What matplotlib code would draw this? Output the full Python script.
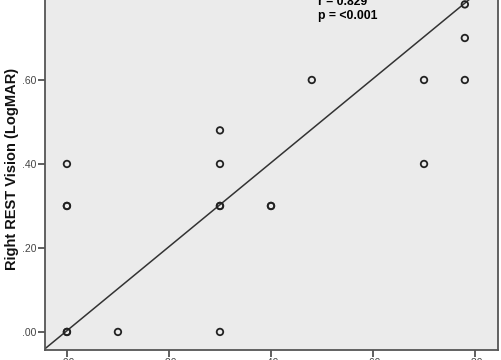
import numpy as np
import matplotlib
matplotlib.use('Agg')
import matplotlib.pyplot as plt

# Left vs right REST vision (LogMAR)
left_vision = [0.00, 0.00, 0.00, 0.00, 0.00, 0.10, 0.30, 0.30, 0.30, 0.30, 0.30,
               0.40, 0.40, 0.48, 0.70, 0.70, 0.78, 0.78, 0.78]
right_vision = [0.00, 0.00, 0.30, 0.30, 0.40, 0.00, 0.00, 0.30, 0.30, 0.40, 0.48,
                0.30, 0.30, 0.60, 0.60, 0.40, 0.78, 0.70, 0.60]
fit_slope = 1.0
fit_intercept = 0.003
ticks = [0.0, 0.2, 0.4, 0.6, 0.8]
tick_labels = ['.00', '.20', '.40', '.60', '.80']

plt.rcParams['font.family'] = ['Liberation Sans', 'DejaVu Sans']

fig = plt.figure(figsize=(5.02, 3.6), dpi=100)
# axes run past the top of the figure, the reference is cropped there
ax = fig.add_axes([45 / 502, 10 / 360, 453 / 502, 375 / 360])
ax.set_facecolor('#ebebeb')

xlim = (-0.043, 0.845)
ylim = (-0.043, 0.85)

xs = np.array(xlim)
ax.plot(xs, fit_intercept + fit_slope * xs, color='#333333', lw=1.1, zorder=2)
ax.scatter(left_vision, right_vision, s=22, facecolors='none',
           edgecolors='#222222', linewidths=1.3, zorder=3)

ax.set_xlim(xlim)
ax.set_ylim(ylim)
ax.set_xticks(ticks)
ax.set_xticklabels(tick_labels)
ax.set_yticks(ticks)
ax.set_yticklabels(tick_labels)
ax.tick_params(length=5, width=1.2, color='#444444', labelsize=7.5,
               labelcolor='#444444', pad=1)
for s in ax.spines.values():
    s.set_color('#555555')
    s.set_linewidth(1.3)

fig.text(12 / 502, 1 - 169 / 360, 'Right REST Vision (LogMAR)', rotation=90,
         fontsize=10.5, fontweight='bold', color='#111111',
         ha='center', va='center')

ax.text(318 / 502, 1 - (-4) / 360, 'r = 0.829', transform=fig.transFigure,
        fontsize=8.8, fontweight='bold', va='top')
ax.text(318 / 502, 1 - 10 / 360, 'p = <0.001', transform=fig.transFigure,
        fontsize=8.8, fontweight='bold', va='top')

fig.savefig('out.png', dpi=100)
